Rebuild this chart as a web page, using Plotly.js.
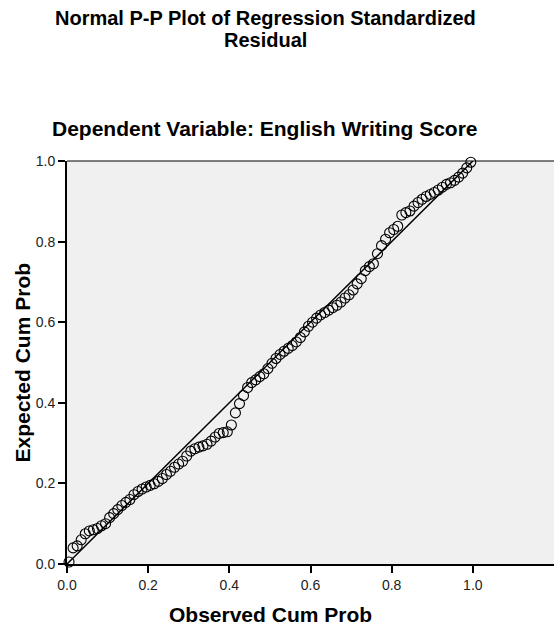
<!DOCTYPE html>
<html>
<head>
<meta charset="utf-8">
<script src="https://cdn.plot.ly/plotly-3.0.1.min.js"></script>
<style>html,body{margin:0;padding:0;background:#fff;}#chart{width:554px;height:628px;}</style>
</head>
<body>
<div id="chart"></div>
<script>
// Observed cumulative probability (x) and expected cumulative probability (y)
var observedCumProb = [0.005,0.015,0.025,0.035,0.045,0.055,0.065,0.075,0.085,0.095,
  0.105,0.115,0.125,0.135,0.145,0.155,0.165,0.175,0.185,0.195,
  0.205,0.215,0.225,0.235,0.245,0.255,0.265,0.275,0.285,0.295,
  0.305,0.315,0.325,0.335,0.345,0.355,0.365,0.375,0.385,0.395,
  0.405,0.415,0.425,0.435,0.445,0.455,0.465,0.475,0.485,0.495,
  0.505,0.515,0.525,0.535,0.545,0.555,0.565,0.575,0.585,0.595,
  0.605,0.615,0.625,0.635,0.645,0.655,0.665,0.675,0.685,0.695,
  0.705,0.715,0.725,0.735,0.745,0.755,0.765,0.775,0.785,0.795,
  0.805,0.815,0.825,0.835,0.845,0.855,0.865,0.875,0.885,0.895,
  0.905,0.915,0.925,0.935,0.945,0.955,0.965,0.975,0.985,0.995];
var expectedCumProb = [0.005,0.040,0.045,0.060,0.075,0.082,0.085,0.088,0.095,0.100,
  0.115,0.125,0.135,0.145,0.153,0.160,0.172,0.180,0.186,0.191,
  0.195,0.199,0.205,0.212,0.222,0.230,0.240,0.248,0.255,0.268,
  0.280,0.286,0.290,0.293,0.297,0.305,0.315,0.324,0.326,0.328,
  0.345,0.375,0.398,0.418,0.438,0.450,0.457,0.465,0.472,0.485,
  0.498,0.510,0.520,0.528,0.535,0.542,0.551,0.562,0.576,0.590,
  0.600,0.610,0.618,0.624,0.630,0.636,0.642,0.650,0.660,0.668,
  0.680,0.695,0.708,0.728,0.738,0.745,0.770,0.790,0.806,0.822,
  0.830,0.838,0.866,0.872,0.876,0.888,0.897,0.905,0.912,0.917,
  0.922,0.928,0.935,0.942,0.946,0.952,0.960,0.970,0.983,0.997];
var refLineX = [0, 1];
var refLineY = [0, 1];
var tickValues = [0, 0.2, 0.4, 0.6, 0.8, 1.0];
var tickLabels = ['0.0', '0.2', '0.4', '0.6', '0.8', '1.0'];

var FONT = 'Liberation Sans, Arial, sans-serif';

var traces = [
  {x: refLineX, y: refLineY, type: 'scatter', mode: 'lines',
   line: {color: '#000', width: 1.5}, hoverinfo: 'skip', cliponaxis: false},
  {x: observedCumProb, y: expectedCumProb, type: 'scatter', mode: 'markers',
   marker: {symbol: 'circle-open', size: 10, color: '#000', line: {width: 1.1, color: '#000'}},
   cliponaxis: false}
];

function px2paperX(px) { return (px - 67) / (554 - 67); }
function px2paperY(py) { return (564 - py) / (564 - 161); }

var layout = {
  width: 554, height: 628,
  margin: {l: 67, r: 0, t: 161, b: 64, pad: 0},
  paper_bgcolor: '#ffffff',
  plot_bgcolor: '#f0f0f0',
  showlegend: false,
  font: {family: FONT, color: '#222', size: 14},
  xaxis: {
    range: [0, 1.2], tickvals: tickValues, ticktext: tickLabels,
    ticks: 'outside', ticklen: 7, tickwidth: 2, tickcolor: '#000',
    showline: true, linecolor: '#000', linewidth: 2,
    showgrid: false, zeroline: false,
    tickfont: {family: FONT, size: 14, color: '#222'}
  },
  yaxis: {
    range: [0, 1], tickvals: tickValues, ticktext: tickLabels,
    ticks: 'outside', ticklen: 7, tickwidth: 2, tickcolor: '#000',
    showline: true, linecolor: '#000', linewidth: 2,
    showgrid: false, zeroline: false,
    tickfont: {family: FONT, size: 14, color: '#222'}
  },
  shapes: [
    {type: 'line', xref: 'paper', yref: 'paper', x0: 0, x1: 1, y0: 1, y1: 1,
     line: {color: '#000', width: 1.2}}
  ],
  annotations: [
    {text: '<b>Normal P-P Plot of Regression Standardized</b>',
     xref: 'paper', yref: 'paper', x: px2paperX(265), y: px2paperY(18),
     xanchor: 'center', yanchor: 'middle', showarrow: false,
     font: {family: FONT, size: 20, color: '#000'}},
    {text: '<b>Residual</b>',
     xref: 'paper', yref: 'paper', x: px2paperX(265), y: px2paperY(40),
     xanchor: 'center', yanchor: 'middle', showarrow: false,
     font: {family: FONT, size: 20, color: '#000'}},
    {text: '<b>Dependent Variable: English Writing Score</b>',
     xref: 'paper', yref: 'paper', x: px2paperX(265), y: px2paperY(128),
     xanchor: 'center', yanchor: 'middle', showarrow: false,
     font: {family: FONT, size: 21, color: '#000'}},
    {text: '<b>Observed Cum Prob</b>',
     xref: 'paper', yref: 'paper', x: px2paperX(270), y: px2paperY(614),
     xanchor: 'center', yanchor: 'middle', showarrow: false,
     font: {family: FONT, size: 21, color: '#000'}},
    {text: '<b>Expected Cum Prob</b>',
     xref: 'paper', yref: 'paper', x: px2paperX(22), y: 0.5, textangle: -90,
     xanchor: 'center', yanchor: 'middle', showarrow: false,
     font: {family: FONT, size: 21, color: '#000'}}
  ]
};

Plotly.newPlot('chart', traces, layout, {staticPlot: true, displayModeBar: false});
</script>
</body>
</html>
